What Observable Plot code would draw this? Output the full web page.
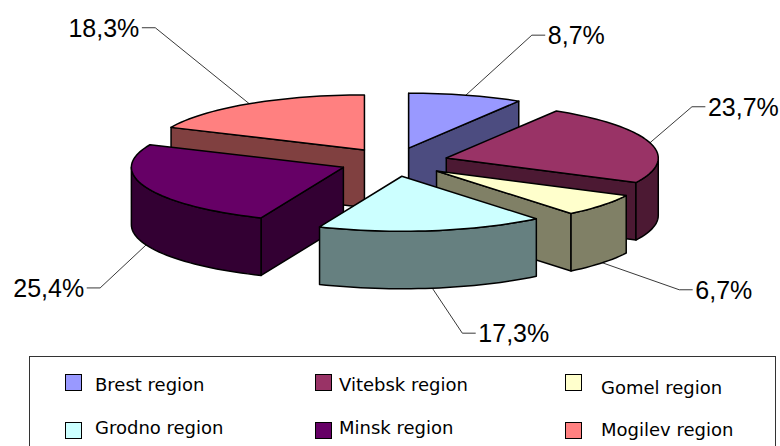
<!DOCTYPE html>
<html>
<head>
<meta charset="utf-8">
<script src="https://cdn.jsdelivr.net/npm/d3@7"></script>
<script src="https://cdn.jsdelivr.net/npm/@observablehq/plot@0.6"></script>
<style>
html,body{margin:0;padding:0;background:#fff;}
#page{position:relative;width:780px;height:446px;overflow:hidden;}
#page svg{display:block;}
#legend{position:absolute;left:29px;top:356px;width:747px;height:90px;box-sizing:border-box;border:1px solid #333;border-bottom:none;font-family:"DejaVu Sans",sans-serif;font-size:18px;color:#000;}
#legend .sw{position:absolute;width:15px;height:15px;border:1.5px solid #000;}
#legend .tx{position:absolute;line-height:20px;white-space:nowrap;}
</style>
</head>
<body>
<div id="page"></div>
<script>
// Data
const regions = ["Brest region","Vitebsk region","Gomel region","Grodno region","Minsk region","Mogilev region"];
const shares = [8.7,23.7,6.7,17.3,25.4,18.3];
const shareLabels = ["8,7%","23,7%","6,7%","17,3%","25,4%","18,3%"];
const topColors = ["#9999FF","#993366","#FFFFCC","#CCFFFF","#660066","#FF8080"];
const sideColors = ["#4C4C80","#4C1933","#808066","#668080","#330033","#804040"];

// Layout of the exploded 3D pie
const cx = 393.5, cy = 161.5, R = 212, Ry = 55, explodeX = 54.4, explodeY = 14.4, depth = 57.5;
const leaderOffsets = [[66,-60],[42,-36],[77,27],[30,45],[-46,43],[-94,-76]];
const legendCols = [[65,95],[315,339],[565,601]];
const rad = d => d * Math.PI / 180;
const total = d3.sum(shares);
const cum = d3.cumsum(shares);

const slices = regions.map((name,i) => {
  const a0 = (i ? cum[i-1] : 0) / total * 360, a1 = cum[i] / total * 360, mid = (a0+a1)/2;
  const ox = cx + explodeX*Math.sin(rad(mid)), oy = cy - explodeY*Math.cos(rad(mid));
  const rim = (a,d=0) => ({x: ox + R*Math.sin(rad(a)), y: oy - Ry*Math.cos(rad(a)) + d});
  const arc = (s,e,d=0) => { const n = Math.max(1,Math.ceil((e-s)/2)); return d3.range(n+1).map(k => rim(s+(e-s)*k/n,d)); };
  const apex = (d=0) => ({x:ox,y:oy+d});
  const cut = a => [apex(),rim(a),rim(a,depth),apex(depth),apex()];
  const faces = [];
  if (Math.sin(rad(a0)) < 1e-6) faces.push({pts:cut(a0),fill:sideColors[i]});
  if (Math.sin(rad(a1)) > 0) faces.push({pts:cut(a1),fill:sideColors[i]});
  const ws = Math.max(a0,90), we = Math.min(a1,270);
  if (we > ws) { const t = arc(ws,we), b = arc(ws,we,depth).reverse(); faces.push({pts:[...t,...b,t[0]],fill:sideColors[i]}); }
  faces.push({pts:[apex(),...arc(a0,a1),apex()],fill:topColors[i]});
  const anchor = rim(mid, Math.cos(rad(mid)) < 0 ? depth : 0);
  const [dx,dy] = leaderOffsets[i];
  const elbow = {x:anchor.x+dx,y:anchor.y+dy};
  const side = dx>0 ? 1 : -1;
  const end = {x:elbow.x+side*13,y:elbow.y};
  return {i,oy,faces,leader:[anchor,elbow,end],end,side,label:shareLabels[i]};
});
const order = d3.sort(slices,s=>s.oy);

const marks = [];
for (const s of slices) marks.push(Plot.line(s.leader,{x:"x",y:"y",stroke:"#222",strokeWidth:0.9}));
for (const s of order) for (const f of s.faces)
  marks.push(Plot.line(f.pts,{x:"x",y:"y",fill:f.fill,stroke:"#000",strokeWidth:1.5,strokeLinejoin:"round"}));
const labelText = {x:s=>s.end.x+s.side*3,y:s=>s.end.y+1,text:"label",fontSize:25,fontFamily:"Liberation Sans",fill:"#000",lineAnchor:"middle"};
marks.push(Plot.text(slices,{...labelText,filter:s=>s.side>0,textAnchor:"start"}));
marks.push(Plot.text(slices,{...labelText,filter:s=>s.side<0,textAnchor:"end"}));

const chart = Plot.plot({
  width:780,height:350,margin:0,
  x:{domain:[0,780],axis:null},
  y:{domain:[350,0],axis:null},
  style:{background:"#fff",overflow:"visible"},
  marks
});
const page = document.getElementById("page");
page.appendChild(chart);

const legend = document.createElement("div");
legend.id = "legend";
regions.forEach((name,i) => {
  const col = legendCols[i%3], row = Math.floor(i/3);
  const sw = document.createElement("div");
  sw.className = "sw";
  sw.style.left = (col[0]-30)+"px";
  sw.style.top = (row ? 65 : 17)+"px";
  sw.style.background = topColors[i];
  const tx = document.createElement("div");
  tx.className = "tx";
  tx.textContent = name;
  tx.style.left = (col[1]-30)+"px";
  const third = i%3===2;
  tx.style.top = (row ? (third?63:61) : (third?21:18))+"px";
  legend.append(sw,tx);
});
page.appendChild(legend);
</script>
</body>
</html>
